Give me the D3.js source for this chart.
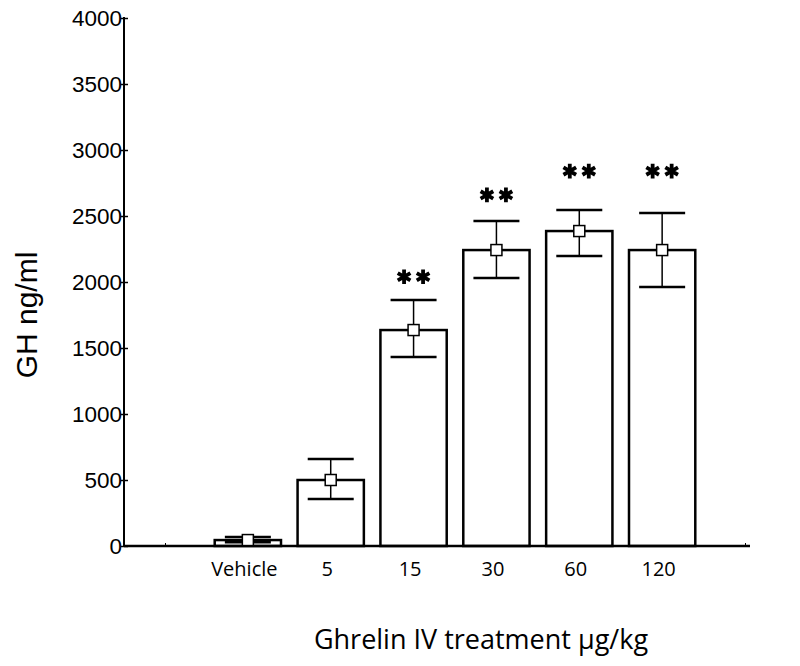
<!DOCTYPE html>
<html>
<head>
<meta charset="utf-8">
<script src="https://cdn.jsdelivr.net/npm/d3@7"></script>
<style>
  html, body { margin: 0; padding: 0; background: #fff; }
  svg { display: block; }
</style>
</head>
<body>
<svg id="chart" width="800" height="666"></svg>
<script>
// ---- data ----
const categories = ["Vehicle", "5", "15", "30", "60", "120"];
const means      = [45, 500, 1636, 2242, 2386, 2242];
const upperErr   = [68, 660, 1864, 2462, 2545, 2523];
const lowerErr   = [28, 356, 1432, 2030, 2197, 1962];
const sigLabels  = ["", "", "**", "**", "**", "**"];
const sigHeights = [null, null, 2040, 2660, 2840, 2840];
const yTicks     = [0, 500, 1000, 1500, 2000, 2500, 3000, 3500, 4000];
const yTitle = "GH ng/ml";
const xTitle = "Ghrelin IV treatment \u03bcg/kg";

// ---- layout ----
const svg = d3.select("#chart");
const slots = ["_pad0", ...categories, "_pad1"];
const x = d3.scalePoint().domain(slots).range([165, 745]);
const y = d3.scaleLinear().domain([0, 4000]).range([546, 18]);
const barW = x.step() * 0.8;
const capW = 46;
const mk = 11;

// y axis
const yAxis = d3.axisLeft(y).tickValues(yTicks).tickSize(0).tickPadding(2).tickFormat(d3.format("d"));
const gy = svg.append("g").attr("transform", "translate(124,0)").call(yAxis);
gy.select(".domain").attr("stroke", "#000").attr("stroke-width", 2).attr("d", `M0,${y(4000) - 1}V${y(0)}`);
gy.selectAll(".tick text")
  .attr("font-family", "Liberation Sans, Arial, sans-serif")
  .attr("font-size", 22.5).attr("fill", "#000").attr("x", -2);
gy.selectAll(".tick").append("line")
  .attr("x1", -3).attr("x2", 4).attr("stroke", "#000").attr("stroke-width", 1.5);

// x axis
const xAxis = d3.axisBottom(x).tickSize(0).tickPadding(0)
  .tickFormat(d => d.startsWith("_") ? "" : d);
const gx = svg.append("g").attr("transform", `translate(0,${y(0)})`).call(xAxis);
gx.select(".domain").remove();
gx.selectAll(".tick text")
  .attr("font-family", "Open Sans, sans-serif")
  .attr("font-size", 20).attr("fill", "#000")
  .attr("dy", 0).attr("y", 30).attr("dx", -4);
gx.selectAll(".tick").append("line")
  .attr("y1", 0).attr("y2", -3).attr("stroke", "#000").attr("stroke-width", 1);

// bars
const data = categories.map((c, i) => ({
  c, m: means[i], hi: upperErr[i], lo: lowerErr[i], s: sigLabels[i], sy: sigHeights[i]
}));

svg.append("g").selectAll("rect").data(data).join("rect")
  .attr("x", d => x(d.c) - barW / 2)
  .attr("y", d => y(d.m))
  .attr("width", barW)
  .attr("height", d => y(0) - y(d.m))
  .attr("fill", "#fff").attr("stroke", "#000").attr("stroke-width", 2.5);

// x axis line (drawn over bar bottoms)
svg.append("line").attr("x1", 124).attr("x2", 750)
  .attr("y1", y(0)).attr("y2", y(0)).attr("stroke", "#000").attr("stroke-width", 2.5);

// error bars
const eb = svg.append("g").selectAll("g").data(data).join("g");
eb.append("line")
  .attr("x1", d => x(d.c)).attr("x2", d => x(d.c))
  .attr("y1", d => y(d.hi)).attr("y2", d => y(d.lo))
  .attr("stroke", "#000").attr("stroke-width", 1.5);
eb.append("line")
  .attr("x1", d => x(d.c) - capW / 2).attr("x2", d => x(d.c) + capW / 2)
  .attr("y1", d => y(d.hi)).attr("y2", d => y(d.hi))
  .attr("stroke", "#000").attr("stroke-width", 2.5);
eb.append("line")
  .attr("x1", d => x(d.c) - capW / 2).attr("x2", d => x(d.c) + capW / 2)
  .attr("y1", d => y(d.lo)).attr("y2", d => y(d.lo))
  .attr("stroke", "#000").attr("stroke-width", 2.5);
eb.append("rect")
  .attr("x", d => x(d.c) - mk / 2).attr("y", d => y(d.m) - mk / 2)
  .attr("width", mk).attr("height", mk)
  .attr("fill", "#fff").attr("stroke", "#000").attr("stroke-width", 1.5);

// significance asterisks
const star = d3.symbol().type(d3.symbolAsterisk).size(150);
const sig = svg.append("g").selectAll("g").data(data.filter(d => d.s)).join("g")
  .attr("transform", d => `translate(${x(d.c)},${y(d.sy)})`);
sig.each(function(d) {
  const n = d.s.length;
  for (let k = 0; k < n; k++) {
    d3.select(this).append("path")
      .attr("d", star())
      .attr("transform", `translate(${(k - (n - 1) / 2) * 19},0)`)
      .attr("fill", "none").attr("stroke", "#000").attr("stroke-width", 3.8);
  }
});

// titles
svg.append("text")
  .attr("transform", `translate(37,${315}) rotate(-90)`)
  .attr("text-anchor", "middle")
  .attr("font-family", "Liberation Sans, Arial, sans-serif")
  .attr("font-size", 30).attr("fill", "#000")
  .text(yTitle);

svg.append("text")
  .attr("x", 481).attr("y", 649)
  .attr("text-anchor", "middle")
  .attr("font-family", "Open Sans, sans-serif")
  .attr("font-size", 27).attr("fill", "#000")
  .text(xTitle);
</script>
</body>
</html>
